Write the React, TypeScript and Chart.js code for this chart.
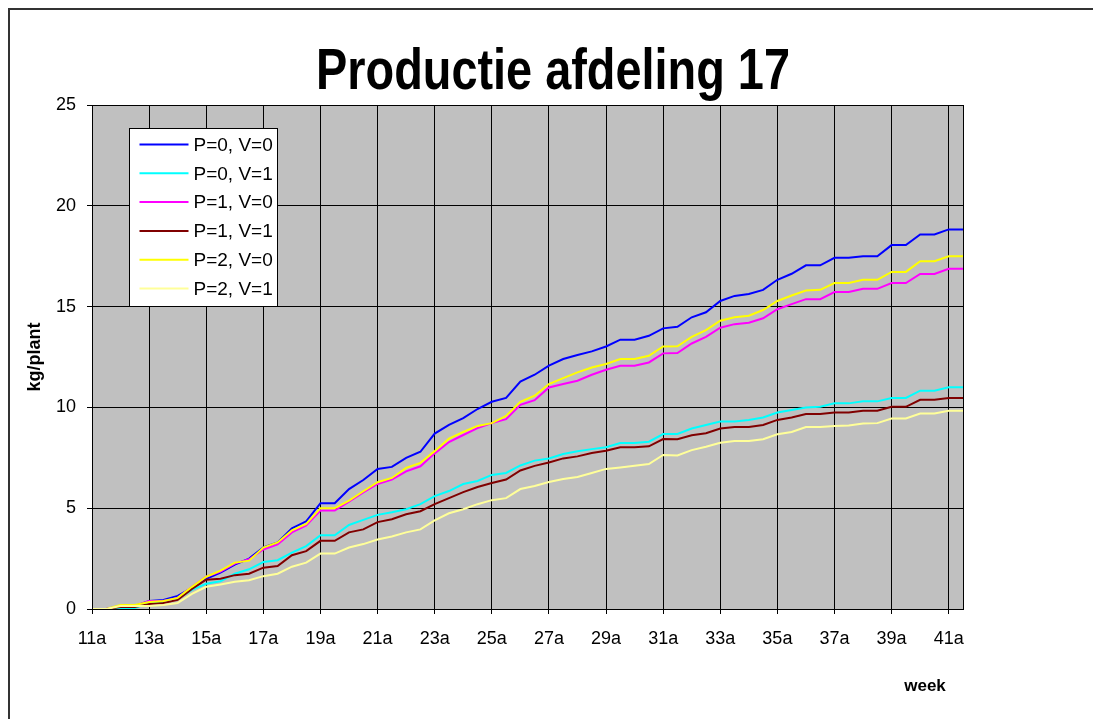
import React, { useEffect, useRef } from "react";
import { Chart, registerables } from "chart.js";

Chart.register(...registerables);

const FONT = "'Liberation Sans', Arial, sans-serif";
const TITLE = "Productie afdeling 17";

// Half-week categories; every fourth one is labelled on the axis.
const weekLabels = [
  "11a", "11b", "12a", "12b", "13a", "13b", "14a", "14b", "15a", "15b",
  "16a", "16b", "17a", "17b", "18a", "18b", "19a", "19b", "20a", "20b",
  "21a", "21b", "22a", "22b", "23a", "23b", "24a", "24b", "25a", "25b",
  "26a", "26b", "27a", "27b", "28a", "28b", "29a", "29b", "30a", "30b",
  "31a", "31b", "32a", "32b", "33a", "33b", "34a", "34b", "35a", "35b",
  "36a", "36b", "37a", "37b", "38a", "38b", "39a", "39b", "40a", "40b",
  "41a", "41b",
];

const yTicks = [0, 5, 10, 15, 20, 25];

// Cumulative production, kg/plant
const p0v0 = [
  0, 0, 0.15, 0.15, 0.4, 0.45, 0.65, 1.05, 1.5, 1.8,
  2.2, 2.5, 3.05, 3.3, 4.0, 4.35, 5.25, 5.25, 5.95, 6.4,
  6.95, 7.05, 7.5, 7.8, 8.7, 9.13, 9.47, 9.92, 10.28, 10.47,
  11.28, 11.62, 12.07, 12.4, 12.6, 12.78, 13.02, 13.36, 13.36, 13.55,
  13.92, 14.0, 14.47, 14.72, 15.28, 15.53, 15.63, 15.83, 16.33, 16.63,
  17.05, 17.05, 17.42, 17.42, 17.5, 17.5, 18.05, 18.05, 18.58, 18.58,
  18.83, 18.83,
];
const p0v1 = [
  0, 0, 0, 0.05, 0.3, 0.35, 0.5, 0.95, 1.25, 1.38,
  1.75, 1.97, 2.33, 2.42, 2.8, 3.12, 3.66, 3.66, 4.17, 4.42,
  4.67, 4.8, 4.95, 5.2, 5.6, 5.85, 6.2, 6.35, 6.65, 6.75,
  7.12, 7.36, 7.47, 7.69, 7.82, 7.93, 8.02, 8.23, 8.23, 8.3,
  8.68, 8.68, 8.95, 9.13, 9.3, 9.3, 9.38, 9.5, 9.75, 9.87,
  10.0, 10.03, 10.2, 10.2, 10.3, 10.3, 10.47, 10.47, 10.83, 10.83,
  11.0, 11.0,
];
const p1v0 = [
  0, 0, 0.15, 0.15, 0.4, 0.4, 0.55, 1.1, 1.6, 1.85,
  2.25, 2.47, 2.95, 3.2, 3.8, 4.15, 4.88, 4.88, 5.33, 5.78,
  6.2, 6.42, 6.83, 7.08, 7.72, 8.28, 8.63, 8.97, 9.22, 9.42,
  10.13, 10.36, 10.99, 11.16, 11.32, 11.62, 11.87, 12.07, 12.07, 12.23,
  12.68, 12.7, 13.17, 13.5, 13.95, 14.13, 14.2, 14.42, 14.87, 15.12,
  15.37, 15.37, 15.72, 15.72, 15.88, 15.88, 16.17, 16.17, 16.62, 16.62,
  16.88, 16.88,
];
const p1v1 = [
  0, 0, 0.1, 0.1, 0.25, 0.3, 0.45, 1.0, 1.45, 1.5,
  1.68, 1.75, 2.05, 2.13, 2.67, 2.87, 3.38, 3.38, 3.8, 3.95,
  4.31, 4.45, 4.7, 4.85, 5.2, 5.5, 5.8, 6.05, 6.25, 6.42,
  6.87, 7.1, 7.27, 7.47, 7.57, 7.74, 7.85, 8.02, 8.02, 8.07,
  8.43, 8.42, 8.62, 8.72, 8.95, 9.03, 9.03, 9.13, 9.38, 9.5,
  9.67, 9.67, 9.75, 9.75, 9.83, 9.83, 10.03, 10.03, 10.38, 10.38,
  10.47, 10.47,
];
const p2v0 = [
  0, 0, 0.2, 0.2, 0.35, 0.4, 0.55, 1.1, 1.6, 1.9,
  2.3, 2.4, 3.05, 3.3, 3.9, 4.22, 5.0, 5.0, 5.38, 5.84,
  6.29, 6.5, 7.0, 7.25, 7.83, 8.45, 8.78, 9.08, 9.22, 9.58,
  10.28, 10.58, 11.16, 11.45, 11.74, 11.98, 12.15, 12.4, 12.4, 12.56,
  13.02, 13.03, 13.5, 13.83, 14.3, 14.47, 14.55, 14.83, 15.28, 15.55,
  15.8, 15.83, 16.17, 16.17, 16.33, 16.33, 16.72, 16.72, 17.25, 17.25,
  17.5, 17.5,
];
const p2v1 = [
  0, 0, 0.15, 0.15, 0.15, 0.2, 0.3, 0.75, 1.1, 1.22,
  1.35, 1.43, 1.63, 1.75, 2.1, 2.3, 2.75, 2.75, 3.05, 3.22,
  3.45, 3.6, 3.8, 3.95, 4.4, 4.75, 4.95, 5.2, 5.4, 5.5,
  5.95, 6.1, 6.3, 6.45, 6.55, 6.75, 6.95, 7.02, 7.1, 7.19,
  7.64, 7.62, 7.88, 8.05, 8.25, 8.33, 8.33, 8.42, 8.67, 8.78,
  9.03, 9.03, 9.08, 9.1, 9.2, 9.22, 9.45, 9.45, 9.7, 9.7,
  9.83, 9.83,
];

const seriesNames = ["P=0, V=0", "P=0, V=1", "P=1, V=0", "P=1, V=1", "P=2, V=0", "P=2, V=1"];
const seriesValues = [p0v0, p0v1, p1v0, p1v1, p2v0, p2v1];
const seriesColors = ["#0000FF", "#00FFFF", "#FF00FF", "#800000", "#FFFF00", "#FFFF99"];

// Grey plot background plus the frame around the plot area
const plotAreaPlugin = {
  id: "plotArea",
  beforeDraw(chart: any) {
    const { ctx, chartArea: a } = chart;
    ctx.save();
    ctx.fillStyle = "#C0C0C0";
    ctx.fillRect(a.left, a.top, a.right - a.left, a.bottom - a.top);
    ctx.restore();
  },
  afterDatasetsDraw(chart: any) {
    const { ctx, chartArea: a } = chart;
    ctx.save();
    ctx.strokeStyle = "#000";
    ctx.lineWidth = 1;
    ctx.strokeRect(Math.round(a.left) + 0.5, Math.round(a.top) + 0.5, Math.round(a.right - a.left), Math.round(a.bottom - a.top));
    ctx.restore();
  },
};

// Boxed legend inside the plot area, title and the "week" caption
const annotationsPlugin = {
  id: "annotations",
  afterDraw(chart: any) {
    const { ctx, chartArea: a } = chart;
    ctx.save();

    // title, condensed bold
    ctx.font = `bold 57px ${FONT}`;
    const tw = ctx.measureText(TITLE).width;
    ctx.translate(543, 79);
    ctx.scale(474 / tw, 1);
    ctx.fillStyle = "#000";
    ctx.textAlign = "center";
    ctx.textBaseline = "alphabetic";
    ctx.fillText(TITLE, 0, 0);
    ctx.setTransform(1, 0, 0, 1, 0, 0);

    // legend
    const bx = Math.round(a.left + 37) + 0.5;
    const by = Math.round(a.top + 23) + 0.5;
    const bw = 148;
    const bh = 178;
    ctx.fillStyle = "#FFFFFF";
    ctx.fillRect(bx, by, bw, bh);
    ctx.strokeStyle = "#000";
    ctx.lineWidth = 1;
    ctx.strokeRect(bx, by, bw, bh);
    ctx.font = `19px ${FONT}`;
    ctx.textAlign = "left";
    ctx.textBaseline = "middle";
    chart.data.datasets.forEach((ds: any, k: number) => {
      const cy = by + 16 + k * 28.8;
      ctx.strokeStyle = ds.borderColor;
      ctx.lineWidth = 2;
      ctx.beginPath();
      ctx.moveTo(bx + 10, cy);
      ctx.lineTo(bx + 59, cy);
      ctx.stroke();
      ctx.fillStyle = "#000";
      ctx.fillText(ds.label, bx + 64, cy + 1);
    });

    // x axis caption
    ctx.font = `bold 17px ${FONT}`;
    ctx.textAlign = "center";
    ctx.textBaseline = "middle";
    ctx.fillStyle = "#000";
    ctx.fillText("week", a.right - 38, a.bottom + 77);

    ctx.restore();
  },
};

export default function App() {
  const canvasRef = useRef<HTMLCanvasElement | null>(null);

  useEffect(() => {
    if (!canvasRef.current) return;
    const chart = new Chart(canvasRef.current, {
      type: "line",
      data: {
        labels: weekLabels,
        datasets: seriesNames.map((name, k) => ({
          label: name,
          data: seriesValues[k],
          borderColor: seriesColors[k],
          backgroundColor: seriesColors[k],
          borderWidth: 2,
          pointRadius: 0,
          tension: 0,
          fill: false,
          order: seriesNames.length - k,
        })),
      },
      options: {
        animation: false,
        responsive: false,
        events: [],
        layout: { padding: { top: 95, right: 130, left: 0, bottom: 0 } },
        plugins: {
          legend: { display: false },
          title: { display: false },
          tooltip: { enabled: false },
        },
        scales: {
          x: {
            type: "category",
            offset: false,
            grid: {
              color: (c: any) => (c.index % 4 === 0 ? "#000" : "rgba(0,0,0,0)"),
              lineWidth: 1,
              tickLength: 5,
              drawTicks: true,
            },
            border: { display: true, color: "#000", width: 1 },
            ticks: {
              autoSkip: false,
              maxRotation: 0,
              minRotation: 0,
              padding: 14,
              color: "#000",
              font: { family: FONT, size: 18 },
              callback: (_v: any, i: number) => (i % 4 === 0 ? weekLabels[i] : ""),
            },
            afterFit: (s: any) => {
              s.height = 110;
            },
          },
          y: {
            min: 0,
            max: 25,
            afterBuildTicks: (s: any) => {
              s.ticks = yTicks.map((v) => ({ value: v }));
            },
            grid: { color: "#000", lineWidth: 1, tickLength: 5 },
            border: { display: true, color: "#000", width: 1 },
            ticks: {
              padding: 11,
              color: "#000",
              font: { family: FONT, size: 18 },
            },
            title: {
              display: true,
              text: "kg/plant",
              color: "#000",
              font: { family: FONT, size: 18, weight: "bold" },
              padding: { top: 14, bottom: 0 },
            },
            afterFit: (s: any) => {
              s.width = 82;
            },
          },
        },
      },
      plugins: [plotAreaPlugin, annotationsPlugin],
    });
    return () => chart.destroy();
  }, []);

  return (
    <div style={{ position: "fixed", left: 0, top: 0, width: 1093, height: 719, overflow: "hidden", background: "#fff" }}>
      <div
        style={{
          position: "absolute",
          left: 8,
          top: 8,
          width: 1110,
          height: 740,
          border: "2px solid #333",
          boxSizing: "border-box",
        }}
      />
      <canvas
        ref={canvasRef}
        width={1083}
        height={709}
        style={{ position: "absolute", left: 10, top: 10, width: 1083, height: 709 }}
      />
    </div>
  );
}
